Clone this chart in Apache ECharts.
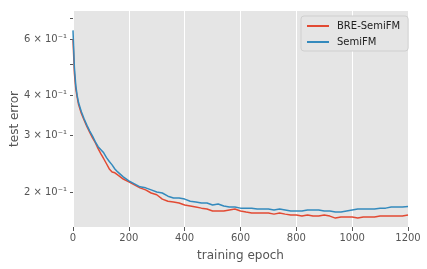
<!DOCTYPE html>
<html>
<head>
<meta charset="utf-8">
<script src="https://cdn.jsdelivr.net/npm/echarts@6/dist/echarts.min.js"></script>
<style>html,body{margin:0;padding:0;background:#fff}#c{width:427px;height:269px}</style>
</head>
<body>
<div id="c"></div>
<script>
const epochs = [0,5,10,15,20,30,40,50,60,70,80,90,100,110,120,130,140,150,160,180,200,220,240,260,280,300,320,340,360,380,400,420,440,460,480,500,520,540,560,580,600,620,640,660,680,700,720,740,760,780,800,820,840,860,880,900,920,940,960,980,1000,1020,1040,1060,1080,1100,1120,1140,1160,1180,1200];
const breSemiFM = [0.600,0.470,0.420,0.395,0.375,0.352,0.335,0.320,0.307,0.295,0.285,0.273,0.263,0.254,0.245,0.236,0.231,0.2295,0.226,0.2195,0.215,0.2105,0.206,0.203,0.1985,0.196,0.190,0.187,0.186,0.1847,0.182,0.1807,0.1794,0.178,0.1768,0.1743,0.1743,0.1743,0.1756,0.1768,0.1743,0.173,0.1718,0.1718,0.1718,0.1718,0.1705,0.1718,0.1705,0.1693,0.1693,0.1681,0.1693,0.1681,0.1681,0.1693,0.1681,0.1657,0.1669,0.1669,0.1669,0.1657,0.1669,0.1669,0.1669,0.1681,0.1681,0.1681,0.1681,0.1681,0.1693];
const semiFM = [0.640,0.490,0.430,0.400,0.380,0.356,0.338,0.323,0.310,0.299,0.287,0.277,0.271,0.265,0.256,0.249,0.243,0.236,0.231,0.223,0.2165,0.212,0.2075,0.206,0.203,0.200,0.1985,0.194,0.1915,0.1915,0.190,0.187,0.186,0.1847,0.1847,0.182,0.1834,0.1807,0.1794,0.1794,0.178,0.178,0.178,0.1768,0.1768,0.1768,0.1756,0.1768,0.1756,0.1743,0.1743,0.1743,0.1756,0.1756,0.1756,0.1743,0.1743,0.173,0.173,0.1743,0.1756,0.1768,0.1768,0.1768,0.1768,0.178,0.178,0.1794,0.1794,0.1794,0.1800];
const yTickValues = [0.2,0.3,0.4,0.5,0.6,0.7];
const yLabelValues = [0.2,0.3,0.4,0.6];
const yLabelText = {0.2:'2 × 10⁻¹',0.3:'3 × 10⁻¹',0.4:'4 × 10⁻¹',0.6:'6 × 10⁻¹'};

const pair = (ys) => epochs.map((e,i)=>[e, ys[i]]);
const chart = echarts.init(document.getElementById('c'), null, {renderer:'canvas'});
const font = 'DejaVu Sans';
chart.setOption({
  animation:false,
  textStyle:{fontFamily:font},
  grid:{left:73,right:19,top:11,bottom:42,show:true,backgroundColor:'#E5E5E5',borderWidth:0,
        containLabel:false,outerBoundsMode:'none'},
  legend:{
    orient:'vertical', left:301, top:16,
    backgroundColor:'#E5E5E5', borderColor:'#CFCFCF', borderWidth:1, borderRadius:3,
    padding:[5,8,4,6], itemGap:6, itemWidth:22, itemHeight:2, icon:'rect',
    textStyle:{fontSize:10,color:'#222',fontFamily:font,padding:[0,0,0,3]},
    data:['BRE-SemiFM','SemiFM']
  },
  xAxis:{
    type:'value', min:0, max:1200, interval:200,
    name:'training epoch', nameLocation:'middle', nameGap:23, nameMoveOverlap:false,
    nameTextStyle:{fontSize:12,color:'#555',fontFamily:font},
    axisLine:{show:false},
    axisTick:{show:true,length:4,lineStyle:{color:'#555'}},
    axisLabel:{fontSize:10,color:'#555',margin:6,fontFamily:font,formatter:(v)=>String(v)},
    splitLine:{show:true,lineStyle:{color:'#fff',width:1}}
  },
  yAxis:{
    type:'log', logBase:10, min:0.1554, max:0.7357,
    name:'test error', nameLocation:'middle', nameGap:52, nameRotate:90, nameMoveOverlap:false,
    nameTextStyle:{fontSize:12,color:'#555',fontFamily:font},
    axisLine:{show:false},
    axisTick:{show:true,length:3,lineStyle:{color:'#555'},customValues:yTickValues},
    axisLabel:{fontSize:10,color:'#555',margin:6,fontFamily:font,customValues:yLabelValues,
      formatter:(v)=>{const k=Math.round(v*10)/10; return yLabelText[k]||'';}},
    splitLine:{show:false}
  },
  series:[
    {name:'BRE-SemiFM',type:'line',data:pair(breSemiFM),showSymbol:false,symbol:'none',
     lineStyle:{color:'#E24A33',width:1.5},itemStyle:{color:'#E24A33'}},
    {name:'SemiFM',type:'line',data:pair(semiFM),showSymbol:false,symbol:'none',
     lineStyle:{color:'#348ABD',width:1.5},itemStyle:{color:'#348ABD'}}
  ]
});
</script>
</body>
</html>
